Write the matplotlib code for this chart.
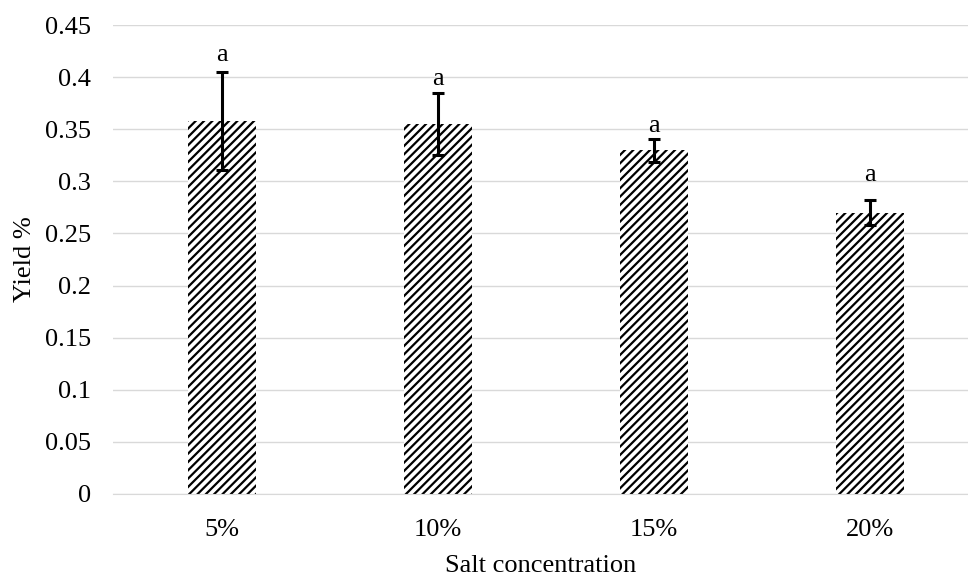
import numpy as np
import matplotlib.pyplot as plt

plt.rcParams['font.family'] = ['Liberation Serif', 'DejaVu Serif']
plt.rcParams['hatch.linewidth'] = 1.6
plt.rcParams['hatch.color'] = 'black'

categories = ['5%', '10%', '15%', '20%']
yield_mean = [0.358, 0.355, 0.330, 0.270]
yield_err = [0.047, 0.030, 0.011, 0.012]
letters = ['a', 'a', 'a', 'a']
letter_offset = [4, 2, 1, 10]  # points above the error cap

fig = plt.figure(figsize=(9.68, 5.75), dpi=100)
ax = fig.add_axes([113/968, 1-494/575, (968-113)/968, (494-25)/575])

x = np.arange(len(categories))
ax.bar(x, yield_mean, width=0.315, color='white', edgecolor='black', linewidth=0,
       hatch='////', zorder=2)
ax.errorbar(x, yield_mean, yerr=yield_err, fmt='none', ecolor='black', elinewidth=2.2,
            capsize=4, capthick=2.2, zorder=3)
for xi, m, e, lab, off in zip(x, yield_mean, yield_err, letters, letter_offset):
    ax.annotate(lab, xy=(xi, m+e), xytext=(0, off), textcoords='offset points',
                ha='center', va='bottom', fontsize=19)

ax.set_xlim(-0.505, 3.454)
ax.set_ylim(0, 0.45)
ax.set_yticks(np.arange(0, 0.451, 0.05))
ax.set_yticklabels(['0', '0.05', '0.1', '0.15', '0.2', '0.25', '0.3', '0.35', '0.4', '0.45'])
ax.set_xticks(x)
ax.set_xticklabels(categories)
ax.yaxis.grid(True, color='#d9d9d9', lw=1.0, zorder=0)
ax.set_axisbelow(True)
for s in ['top', 'right', 'left']:
    ax.spines[s].set_visible(False)
ax.spines['bottom'].set_color('#d9d9d9')
ax.tick_params(axis='y', length=0, labelsize=19, pad=16)
ax.tick_params(axis='x', length=0, labelsize=19, pad=18)
ax.set_xlabel('Salt concentration', fontsize=19, labelpad=10)
ax.set_ylabel('Yield %', fontsize=19, labelpad=6)

fig.savefig('out.png', dpi=100)
